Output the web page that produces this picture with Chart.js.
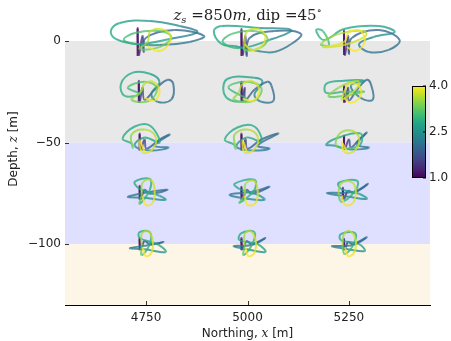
<!DOCTYPE html>
<html>
<head>
<meta charset="utf-8">
<script src="https://cdn.jsdelivr.net/npm/chart.js@4.4.1/dist/chart.umd.min.js"></script>
<style>
  body { margin: 0; background: #fff; }
  canvas { display: block; }
</style>
</head>
<body>
<canvas id="hodo" width="451" height="341"></canvas>
<script>
// stations
const northings = [4750, 5000, 5250];
const depths = [0, -25, -50, -75, -100];
const xTicks = [4750, 5000, 5250];
const yTicks = [0, -50, -100];

// layers
const layerTop = [0, -50, -100];
const layerBottom = [-50, -100, -130];

// colour scale
const cMin = 1.0, cMax = 4.0;
const cbTicks = [1.0, 2.5, 4.0];

// traces: [offset northing m, offset depth m, colour value]
const trace_z0_n4750 = [[-21,-7.4,1.0],[-21,6.4,1.1],[-18,-6.9,1.2],[-9,2.5,1.6],[-6,-5.4,1.7],[-1,1.5,1.9],[70,5.4,2.0],[143,2.5,2.0],[107,-0.5,2.1],[33,-2,2.3],[-28,-1.5,2.6],[-75,1,2.8],[-87,4.9,2.8],[-65,8.9,2.8],[9,9.9,2.6],[82,7.4,2.3],[126,4.4,2.1],[58,1,2.5],[-16,-1.5,2.9],[-55,0.5,3.0],[-28,3.9,3.1],[33,4.9,3.2],[62,2,3.3],[33,-3,3.3],[-16,-3.9,3.4],[4,-0.5,3.6],[9,4.4,3.7],[36,5.9,3.8],[60,2.5,3.9],[50,-3,3.9],[26,-4.9,4.0],[4,-2.5,4.0]];
const trace_z0_n5000 = [[-15,-7.4,1.0],[-15,5.9,1.1],[-12,-6.9,1.2],[-5,2.5,1.6],[-2,-7.4,1.8],[5,1.5,1.9],[66,4.9,2.0],[132,3.5,2.0],[108,-1.5,2.1],[66,-5.4,2.2],[25,-4.9,2.4],[-32,-2.5,2.7],[-64,-1.5,2.8],[-83,4.9,2.8],[-64,7.4,2.8],[29,6.4,2.6],[108,5.4,2.3],[54,0.5,2.5],[-20,-3.5,2.9],[-61,-0.5,3.0],[-39,3.5,3.1],[17,4.9,3.2],[49,1.5,3.3],[34,-3,3.3],[-7,-4.4,3.4],[-7,-1,3.6],[-2,4.4,3.7],[25,5.9,3.8],[44,2.5,3.9],[34,-2.5,3.9],[10,-4.4,4.0],[-7,-1.5,4.0]];
const trace_z0_n5250 = [[-12,-6.9,1.0],[-12,5.4,1.1],[-10,-6.9,1.2],[-2,2.5,1.6],[0,-6.4,1.8],[7,1.5,1.9],[74,5.4,2.0],[125,0.5,2.0],[98,-4.4,2.1],[49,-5.4,2.2],[25,-1.5,2.3],[61,2,2.4],[113,4.4,2.6],[74,7.4,2.7],[-12,5.9,2.8],[-61,0.5,2.9],[-81,5.4,2.9],[-64,4.9,3.0],[-49,-2,3.1],[-69,-1.5,3.5],[-25,3.5,3.6],[37,4.9,3.7],[42,2.5,3.7],[-12,-2,3.8],[-64,-3,3.8],[-12,-0.5,3.9],[0,4.4,3.9],[29,4.9,4.0],[39,-0.5,4.0],[17,-4.9,4.0],[-5,-3,4.0]];
const trace_z25_n4750 = [[-18,-5.4,1.0],[-18,5.4,1.1],[-16,-4.9,1.2],[-9,2,1.6],[-4,-3.9,1.8],[21,1,1.9],[53,5.9,2.0],[67,3.9,2.0],[62,-3.9,2.1],[28,-4.9,2.2],[13,-1,2.3],[33,4.9,2.5],[9,8.9,2.7],[-33,9.4,2.8],[-62,3.9,2.8],[-53,-2,2.9],[-16,-1,2.9],[-45,2,3.1],[-4,4.9,3.2],[26,2,3.3],[9,-4.4,3.3],[-36,-3.9,3.4],[-13,0,3.6],[-4,3.9,3.7],[18,4.9,3.8],[33,0.5,3.9],[21,-4.4,4.0],[-4,-3,4.0]];
const trace_z25_n5000 = [[-15,-4.9,1.0],[-15,4.9,1.1],[-12,-4.4,1.2],[-7,2,1.6],[-5,-3.9,1.8],[17,1,1.9],[49,4.9,2.0],[59,3,2.0],[64,-4.4,2.1],[34,-4.9,2.2],[17,-1.5,2.3],[37,4.9,2.5],[17,6.9,2.6],[-49,6.4,2.8],[-59,0,2.8],[-39,-4.4,2.9],[0,-3.9,2.9],[-47,2,3.1],[-7,4.9,3.2],[34,2,3.3],[17,-4.4,3.3],[-34,-3.9,3.4],[-22,-0.5,3.6],[-12,3.9,3.7],[15,4.9,3.8],[29,0.5,3.9],[15,-4.4,4.0],[-12,-3.4,4.0]];
const trace_z25_n5250 = [[-12,-5.4,1.0],[-12,3,1.1],[-10,-4.9,1.2],[-2,2,1.6],[0,-4.4,1.8],[20,1,1.9],[44,5.9,2.0],[54,3.9,2.0],[59,-3.9,2.1],[29,-3,2.2],[5,3,2.4],[37,5.4,2.6],[-12,5.4,2.8],[-56,3.9,2.8],[-56,-0.5,2.9],[-12,0,3.0],[37,0,3.1],[-49,-2.5,3.4],[-25,2,3.5],[20,5.4,3.6],[25,3,3.7],[-17,-3.9,3.8],[-12,-0.5,3.8],[0,3.9,3.9],[25,3,3.9],[29,-2,4.0],[5,-5.4,4.0],[-12,-3,4.0]];
const trace_z50_n4750 = [[-16,-3.9,1.0],[-16,4.4,1.1],[-13,-3.4,1.2],[-4,1.5,1.6],[1,-3,1.8],[33,1.5,1.9],[58,3.9,2.0],[21,-1.5,2.1],[55,-2.5,2.2],[9,-3.9,2.3],[-28,-1.5,2.5],[-4,2.5,2.6],[33,0,2.8],[9,8.4,2.8],[-28,7.9,2.8],[-58,2,2.8],[-36,-0.5,2.9],[-33,-2.5,3.4],[-36,3.9,3.5],[-4,6.4,3.6],[23,3,3.7],[16,-3.4,3.8],[-9,-4.9,3.9],[-16,1,4.0],[-4,-4.4,4.0]];
const trace_z50_n5000 = [[-15,-3.9,1.0],[-15,4.4,1.1],[-12,-3.4,1.2],[-5,1.5,1.6],[0,-3,1.8],[34,1.5,1.9],[76,4.4,2.0],[25,-1.5,2.1],[54,-3,2.2],[10,-3.9,2.3],[-27,-2,2.5],[-2,2.5,2.6],[34,0.5,2.8],[17,7.9,2.8],[-25,7.4,2.8],[-56,1.5,2.8],[-34,-1,2.9],[-29,-3,3.4],[-32,3.9,3.5],[0,6.4,3.6],[25,3,3.7],[17,-3.4,3.8],[-7,-4.9,3.9],[-12,1,4.0],[-2,-4.4,4.0]];
const trace_z50_n5250 = [[-12,-3.4,1.0],[-12,3.4,1.1],[-10,-3,1.2],[0,1.5,1.6],[5,-2.5,1.8],[25,1.5,1.9],[44,4.9,2.0],[20,-1,2.1],[49,-2.5,2.2],[5,-3.4,2.3],[-37,-1.5,2.5],[-56,-1,2.6],[-25,2.5,2.7],[29,4.4,2.8],[25,-1.5,2.9],[-29,-2,3.4],[-25,3.9,3.5],[5,5.9,3.6],[25,2.5,3.7],[15,-3.9,3.8],[-10,-4.9,3.9],[-17,0,4.0],[-5,-4.4,4.0]];
const trace_z75_n4750 = [[-16,-3.2,1.0],[-16,3.7,1.1],[-13,-2.7,1.2],[-4,1.7,1.6],[9,-0.2,1.9],[53,1.7,2.0],[9,0.7,2.1],[-45,-1.7,2.2],[-4,-2.2,2.3],[48,-3.2,2.6],[33,-1.2,2.7],[-16,2.2,2.8],[-28,5.7,2.8],[9,7.1,2.8],[9,1.7,2.9],[-16,-5.2,3.0],[-11,-0.7,3.5],[-9,5.2,3.6],[11,6.7,3.7],[21,1.7,3.8],[16,-4.7,3.9],[-1,-5.7,4.0],[-9,-1.2,4.0]];
const trace_z75_n5000 = [[-15,-3.2,1.0],[-15,3.2,1.1],[-12,-2.7,1.2],[-2,1.7,1.6],[10,-0.2,1.9],[54,3.2,2.0],[10,0.7,2.1],[-44,-0.7,2.2],[-2,-2.7,2.3],[42,-3.2,2.6],[25,-0.7,2.7],[-20,2.2,2.8],[-32,4.7,2.8],[17,6.7,2.8],[17,1.7,2.9],[-20,-4.7,3.0],[-7,-0.7,3.5],[-5,4.7,3.6],[15,6.2,3.7],[25,1.7,3.8],[20,-4.7,3.9],[0,-5.7,4.0],[-7,-1.2,4.0]];
const trace_z75_n5250 = [[-15,-3.2,1.0],[-15,2.7,1.1],[-12,-2.7,1.2],[-2,1.2,1.6],[12,0.2,1.9],[47,4.7,2.0],[12,0.7,2.1],[-54,0.2,2.2],[0,-1.7,2.3],[44,-2.7,2.6],[25,-0.2,2.7],[-20,2.2,2.8],[-25,5.2,2.8],[20,6.2,2.8],[17,1.7,2.9],[-17,-4.2,3.0],[-25,-0.7,3.5],[-20,4.7,3.6],[5,5.7,3.7],[17,1.7,3.8],[10,-4.7,3.9],[-10,-5.7,4.0],[-17,-1.2,4.0]];
const trace_z100_n4750 = [[-16,-3,1.0],[-16,3,1.1],[-13,-2.5,1.2],[-4,1.5,1.6],[9,0,1.9],[43,1,2.0],[9,-0.5,2.1],[-40,-2,2.2],[-4,-2.5,2.3],[48,-3.9,2.6],[28,0,2.7],[-16,3,2.8],[-16,5.9,2.8],[9,5.9,2.8],[9,0,2.9],[-11,-5.4,3.0],[-11,-0.5,3.5],[-11,4.9,3.6],[4,6.4,3.7],[16,2,3.8],[13,-4.4,3.9],[-1,-5.9,4.0],[-9,-1.5,4.0]];
const trace_z100_n5000 = [[-15,-3,1.0],[-15,3,1.1],[-12,-2.5,1.2],[-2,1.5,1.6],[10,0,1.9],[44,3,2.0],[10,-0.5,2.1],[-34,-1,2.2],[-2,-2.5,2.3],[44,-3.9,2.6],[25,0,2.7],[-20,2,2.8],[-15,5.4,2.8],[17,5.9,2.8],[12,0,2.9],[-10,-5.4,3.0],[-7,-0.5,3.5],[-7,4.9,3.6],[7,6.4,3.7],[20,2,3.8],[17,-4.4,3.9],[2,-5.9,4.0],[-5,-1.5,4.0]];
const trace_z100_n5250 = [[-12,-3,1.0],[-12,2.5,1.1],[-10,-2.5,1.2],[-2,1,1.6],[10,0,1.9],[44,3.4,2.0],[10,-0.5,2.1],[-42,-1,2.2],[-2,-2.5,2.3],[39,-3.4,2.6],[25,0,2.7],[-20,2,2.8],[-20,4.9,2.8],[15,5.4,2.8],[12,0,2.9],[-10,-4.9,3.0],[-15,-0.5,3.5],[-12,4.9,3.6],[2,6.4,3.7],[17,2,3.8],[12,-4.4,3.9],[-2,-5.9,4.0],[-10,-1.5,4.0]];

const traceGrid = [
  [trace_z0_n4750, trace_z0_n5000, trace_z0_n5250],
  [trace_z25_n4750, trace_z25_n5000, trace_z25_n5250],
  [trace_z50_n4750, trace_z50_n5000, trace_z50_n5250],
  [trace_z75_n4750, trace_z75_n5000, trace_z75_n5250],
  [trace_z100_n4750, trace_z100_n5000, trace_z100_n5250]
];

// viridis
const viridis = ['#440154','#482475','#414487','#355f8d','#2a788e','#21918c','#22a884','#44bf70','#7ad151','#bddf26','#fde725'];
const layerFill = ['#e8e8e8', '#dfdfff', '#fdf5e6'];

function hexRgb(h) {
  return [parseInt(h.slice(1,3),16), parseInt(h.slice(3,5),16), parseInt(h.slice(5,7),16)];
}
function cmap(v, a) {
  let t = (v - cMin) / (cMax - cMin);
  t = Math.max(0, Math.min(1, t)) * (viridis.length - 1);
  const i = Math.min(Math.floor(t), viridis.length - 2);
  const f = t - i;
  const c0 = hexRgb(viridis[i]), c1 = hexRgb(viridis[i + 1]);
  const c = c0.map((c, k) => Math.round(c + (c1[k] - c) * f));
  return `rgba(${c[0]},${c[1]},${c[2]},${a})`;
}

const datasets = [];
depths.forEach((z, r) => {
  northings.forEach((n, k) => {
    const pts = traceGrid[r][k].map(p => ({ x: n + p[0], y: z + p[1], c: p[2] }));
    datasets.push({
      data: pts,
      borderWidth: 2,
      pointRadius: 0,
      tension: 0.4,
      clip: false,
      segment: {
        borderColor: s => cmap((pts[s.p0DataIndex].c + pts[s.p1DataIndex].c) / 2, 0.78)
      }
    });
  });
});

function drawRich(ctx, parts, x, y, align) {
  let w = 0;
  parts.forEach(p => { ctx.font = p.font; w += ctx.measureText(p.t).width; });
  let cx = align === 'center' ? x - w / 2 : x;
  parts.forEach(p => {
    ctx.font = p.font;
    ctx.fillText(p.t, cx, y + (p.dy || 0));
    cx += ctx.measureText(p.t).width;
  });
}

const decorations = {
  id: 'decorations',
  beforeDraw(chart) {
    const { ctx, chartArea: a, scales: { y } } = chart;
    ctx.save();
    ctx.fillStyle = '#fff';
    ctx.fillRect(0, 0, chart.width, chart.height);
    layerTop.forEach((t, i) => {
      const y0 = y.getPixelForValue(t), y1 = y.getPixelForValue(layerBottom[i]);
      ctx.fillStyle = layerFill[i];
      ctx.fillRect(a.left, y0, a.right - a.left, y1 - y0);
    });
    ctx.restore();
  },
  afterDraw(chart) {
    const { ctx, chartArea: a, scales: { x, y } } = chart;
    ctx.save();
    // inward ticks
    ctx.strokeStyle = '#333';
    ctx.lineWidth = 1;
    xTicks.forEach(v => {
      const px = Math.round(x.getPixelForValue(v)) + 0.5;
      ctx.beginPath(); ctx.moveTo(px, a.bottom); ctx.lineTo(px, a.bottom - 4); ctx.stroke();
    });
    yTicks.forEach(v => {
      const py = Math.round(y.getPixelForValue(v)) + 0.5;
      ctx.beginPath(); ctx.moveTo(a.left, py); ctx.lineTo(a.left + 4, py); ctx.stroke();
    });

    // title
    ctx.fillStyle = '#222';
    ctx.textBaseline = 'alphabetic';
    ctx.textAlign = 'left';
    const serif = '"DejaVu Serif"';
    drawRich(ctx, [
      { t: 'z', font: `italic 15px ${serif}` },
      { t: 's', font: `italic 10px ${serif}`, dy: 3 },
      { t: ' =850', font: `15px ${serif}` },
      { t: 'm', font: `italic 15px ${serif}` },
      { t: ', dip =45', font: `15px ${serif}` },
      { t: '\u2218', font: `10px ${serif}`, dy: -6 }
    ], (a.left + a.right) / 2, 20, 'center');

    // x label
    const sans = '"DejaVu Sans"';
    drawRich(ctx, [
      { t: 'Northing, ', font: `12px ${sans}` },
      { t: 'x', font: `italic 12px ${serif}` },
      { t: ' [m]', font: `12px ${sans}` }
    ], (a.left + a.right) / 2, 337, 'center');

    // y label
    ctx.save();
    ctx.translate(17, 149);
    ctx.rotate(-Math.PI / 2);
    drawRich(ctx, [
      { t: 'Depth, ', font: `12px ${sans}` },
      { t: 'z', font: `italic 12px ${serif}` },
      { t: ' [m]', font: `12px ${sans}` }
    ], 0, 0, 'center');
    ctx.restore();

    // colour bar
    const cbL = a.right - 18, cbW = 14, cbT = a.top + 45, cbB = a.top + 137;
    const grad = ctx.createLinearGradient(0, cbB, 0, cbT);
    viridis.forEach((c, i) => grad.addColorStop(i / (viridis.length - 1), c));
    ctx.fillStyle = grad;
    ctx.fillRect(cbL, cbT, cbW, cbB - cbT);
    ctx.strokeStyle = '#000';
    ctx.strokeRect(cbL + 0.5, cbT + 0.5, cbW - 1, cbB - cbT - 1);
    ctx.font = `12px ${sans}`;
    ctx.fillStyle = '#222';
    ctx.textBaseline = 'middle';
    cbTicks.forEach(v => {
      const py = cbB - (v - cMin) / (cMax - cMin) * (cbB - cbT);
      ctx.beginPath(); ctx.moveTo(cbL + cbW, py); ctx.lineTo(cbL + cbW - 3, py); ctx.stroke();
      ctx.fillText(v.toFixed(1), cbL + cbW + 3, py);
    });
    ctx.restore();
  }
};

new Chart(document.getElementById('hodo'), {
  type: 'line',
  data: { datasets },
  options: {
    responsive: false,
    animation: false,
    devicePixelRatio: 1,
    events: [],
    layout: { padding: { top: 41, right: 21, left: 0, bottom: 0 } },
    plugins: { legend: { display: false }, tooltip: { enabled: false } },
    scales: {
      x: {
        type: 'linear',
        min: 4550, max: 5450,
        afterBuildTicks: s => { s.ticks = xTicks.map(v => ({ value: v })); },
        afterFit: s => { s.height = 36; },
        grid: { display: false, drawTicks: false },
        border: { display: true, color: '#000', width: 1 },
        ticks: { padding: 6, color: '#222', font: { family: 'DejaVu Sans', size: 12 }, callback: v => String(v) }
      },
      y: {
        type: 'linear',
        min: -130, max: 0,
        afterBuildTicks: s => { s.ticks = yTicks.map(v => ({ value: v })); },
        afterFit: s => { s.width = 65; },
        grid: { display: false, drawTicks: false },
        border: { display: false },
        ticks: {
          padding: 4, color: '#222', font: { family: 'DejaVu Sans', size: 12 },
          callback: v => String(v).replace('-', '\u2212')
        }
      }
    }
  },
  plugins: [decorations]
});
</script>
</body>
</html>
